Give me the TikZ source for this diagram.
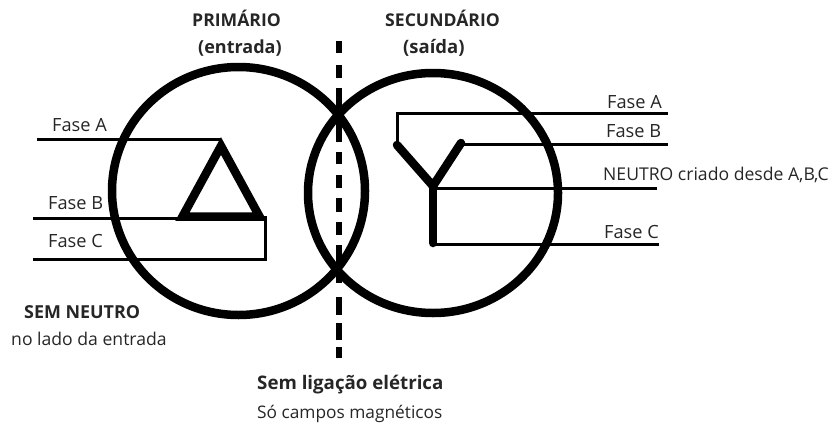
\documentclass[tikz,border=0pt]{standalone}
\usepackage{fontspec}
\setmainfont{Open Sans}
\newcommand{\fsz}[1]{\fontsize{#1}{20}\selectfont}
\tikzset{
  ring/.style={line width=8.5pt,draw=black},
  wire/.style={line width=3pt,draw=black},
  coil/.style={line width=8.5pt,draw=black,line cap=round,line join=miter},
  lbl/.style={font=\fsz{17.6},text=black!85,inner sep=0pt,anchor=base west},
  bold/.style={lbl,font=\fsz{17.6}\bfseries},
  fase/.style={lbl,font=\fsz{18.2}},
}
\begin{document}
\begin{tikzpicture}[x=1pt,y=-1pt]
\useasboundingbox (0,0) rectangle (834,423);
% rings
\coordinate (lc) at (238.5,191);
\coordinate (rc) at (433,193);
\draw[ring] (lc) ellipse [x radius=126.5, y radius=124];
\draw[ring] (rc) ellipse [x radius=125, y radius=120];
\coordinate (d1) at (339,41);
\coordinate (d2) at (339,358);
\draw[line width=6pt,dash pattern=on 12pt off 12pt on 13pt off 10pt on 54pt off 10pt on 12pt off 11pt on 13pt off 10pt on 14pt off 10pt on 13pt off 10pt on 38pt off 14pt on 18pt off 8pt on 17pt off 7pt on 11pt off 40pt] (d1) -- (d2);
% delta
\coordinate (ta) at (221,146);
\coordinate (tb) at (182.5,216.5);
\coordinate (tc) at (259.5,216.5);
\coordinate (lA) at (37,139);
\coordinate (lB) at (33,218);
\coordinate (lC) at (33,259);
\coordinate (lAe) at (221,139);
\coordinate (lBe) at (183,218);
\coordinate (lCc) at (265,259);
\coordinate (lCt) at (265,216);
\draw[coil,line cap=butt] (ta) -- (tb) -- (tc) -- cycle;
\draw[wire] (lA) -- (lAe);
\draw[wire] (lB) -- (lBe);
\draw[wire] (lC) -- (lCc) -- (lCt);
% wye
\coordinate (yn) at (433,186);
\coordinate (ya) at (397,145);
\coordinate (yb) at (461,143);
\coordinate (yc) at (433,243);
\coordinate (rAc) at (397,113);
\coordinate (rA) at (668,113);
\coordinate (rBs) at (461,144);
\coordinate (rB) at (668,144);
\coordinate (rN) at (657,188);
\coordinate (rNs) at (433,188);
\coordinate (rCs) at (433,244);
\coordinate (rC) at (659,244);
\draw[coil] (ya) -- (yn) -- (yb);
\draw[coil] (yn) -- (yc);
\draw[wire] (ya) -- (rAc) -- (rA);
\draw[wire] (rBs) -- (rB);
\draw[wire] (rNs) -- (rN);
\draw[wire] (rCs) -- (rC);
% labels
\node[bold] (t1) at (192,26) {PRIMÁRIO};
\node[bold,font=\fsz{18}\bfseries] (t2) at (198,53) {(entrada)};
\node[bold] (t3) at (385,26) {SECUNDÁRIO};
\node[bold,font=\fsz{18.5}\bfseries] (t4) at (403,53) {(saída)};
\node[fase] (a1) at (52,131) {Fase A};
\node[fase] (b1) at (48,209) {Fase B};
\node[fase] (c1) at (48,247) {Fase C};
\node[fase] (a2) at (607,108) {Fase A};
\node[fase] (b2) at (606,137) {Fase B};
\node[lbl] (n2) at (603,180) {NEUTRO criado desde A,B,C};
\node[fase] (c2) at (604,238) {Fase C};
\node[bold,font=\fsz{17.9}\bfseries] (s1) at (24,318) {SEM NEUTRO};
\node[lbl] (s2) at (11,345) {no lado da entrada};
\node[bold,font=\fsz{18.7}\bfseries] (m1) at (257,389) {Sem ligação elétrica};
\node[lbl,font=\fsz{17.3}] (m2) at (257,418) {Só campos magnéticos};
\end{tikzpicture}
\end{document}
